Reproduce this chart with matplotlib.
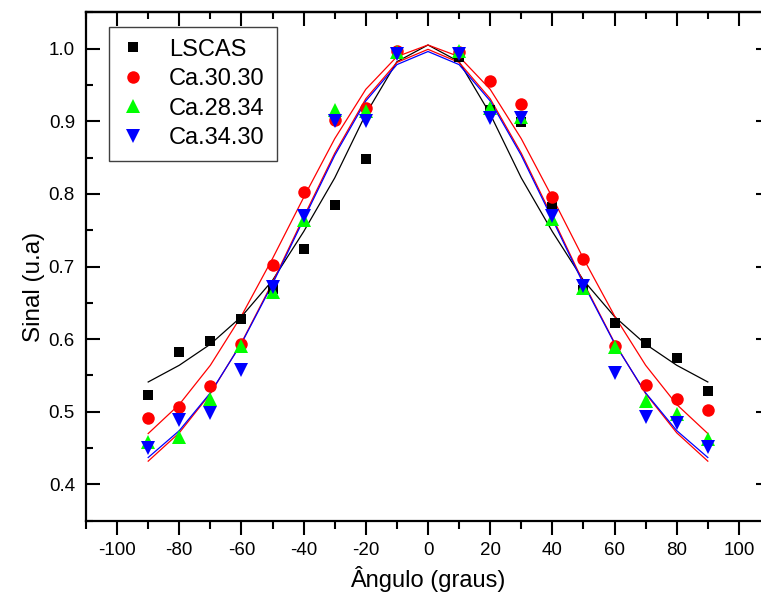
import matplotlib
matplotlib.use("Agg")
import matplotlib.pyplot as plt

plt.rcParams['font.family'] = ['Liberation Sans', 'DejaVu Sans']
plt.rcParams['axes.unicode_minus'] = False

# measured points
angles = [-90, -80, -70, -60, -50, -40, -30, -20, -10, 10, 20, 30, 40, 50, 60, 70, 80, 90]
lscas = [0.523, 0.582, 0.597, 0.628, 0.669, 0.724, 0.785, 0.848, 0.992,
         0.989, 0.915, 0.899, 0.782, 0.667, 0.622, 0.594, 0.574, 0.528]
ca_30_30 = [0.492, 0.506, 0.535, 0.593, 0.702, 0.803, 0.902, 0.918, 0.997,
            0.995, 0.955, 0.924, 0.796, 0.710, 0.591, 0.537, 0.517, 0.503]
ca_28_34 = [0.458, 0.465, 0.517, 0.591, 0.665, 0.764, 0.916, 0.914, 0.996,
            0.997, 0.918, 0.906, 0.766, 0.671, 0.589, 0.515, 0.497, 0.462]
ca_34_30 = [0.450, 0.488, 0.498, 0.558, 0.672, 0.770, 0.900, 0.901, 0.992,
            0.992, 0.905, 0.905, 0.770, 0.673, 0.553, 0.493, 0.484, 0.451]

# fitted curves
fit_x = [-90, -80, -70, -60, -50, -40, -30, -20, -10, 0, 10, 20, 30, 40, 50, 60, 70, 80, 90]
fit_lscas = [0.541, 0.564, 0.593, 0.631, 0.681, 0.748, 0.822, 0.910, 0.982, 1.005,
             0.982, 0.910, 0.822, 0.748, 0.681, 0.631, 0.593, 0.564, 0.541]
fit_30_30 = [0.470, 0.510, 0.564, 0.632, 0.711, 0.795, 0.876, 0.944, 0.989, 1.005,
             0.989, 0.944, 0.876, 0.795, 0.711, 0.632, 0.564, 0.510, 0.470]
fit_28_34 = [0.432, 0.471, 0.525, 0.595, 0.678, 0.768, 0.856, 0.931, 0.981, 0.999,
             0.981, 0.931, 0.856, 0.768, 0.678, 0.595, 0.525, 0.471, 0.432]
fit_34_30 = [0.437, 0.474, 0.526, 0.594, 0.676, 0.765, 0.853, 0.928, 0.978, 0.996,
             0.978, 0.928, 0.853, 0.765, 0.676, 0.594, 0.526, 0.474, 0.437]

W, H = 761, 597
fig = plt.figure(figsize=(W / 100, H / 100), dpi=100)
ax = fig.add_axes([86 / W, 1 - 520.7 / H, 684 / W, 508.4 / H])

ax.plot(fit_x, fit_lscas, '-', color='black', lw=0.9, zorder=2)
ax.plot(fit_x, fit_30_30, '-', color='red', lw=0.9, zorder=2)
ax.plot(fit_x, fit_28_34, '-', color='red', lw=0.9, zorder=2)
ax.plot(fit_x, fit_34_30, '-', color='blue', lw=0.9, zorder=2)

ax.plot(angles, lscas, 's', color='black', ms=7.5, mew=0, label='LSCAS', zorder=3)
ax.plot(angles, ca_30_30, 'o', color='red', ms=9, mew=0, label='Ca.30.30', zorder=3)
ax.plot(angles, ca_28_34, '^', color='#00FF00', ms=10, mew=0, label='Ca.28.34', zorder=3)
ax.plot(angles, ca_34_30, 'v', color='blue', ms=10, mew=0, label='Ca.34.30', zorder=3)

ax.set_xlim(-110, 110)
ax.set_ylim(0.35, 1.05)
ax.set_xticks(range(-100, 101, 20))
ax.set_xticks(range(-110, 111, 10), minor=True)
ax.set_yticks([0.4, 0.5, 0.6, 0.7, 0.8, 0.9, 1.0])
ax.set_yticks([0.35 + 0.05 * i for i in range(15)], minor=True)
ax.yaxis.set_major_formatter(matplotlib.ticker.FormatStrFormatter('%.1f'))

for s in ax.spines.values():
    s.set_linewidth(1.6)

ax.tick_params(axis='x', which='both', direction='out', top=False, labelsize=13.5, width=1.5, pad=5)
ax.tick_params(axis='x', which='major', length=10)
ax.tick_params(axis='x', which='minor', length=6)
ax.tick_params(axis='y', which='both', direction='in', right=True, labelsize=13.5, width=1.5, pad=8)
ax.tick_params(axis='y', which='major', length=10)
ax.tick_params(axis='y', which='minor', length=5)

top = ax.secondary_xaxis('top')
top.set_xticks(range(-100, 101, 20))
top.set_xticks(range(-110, 111, 10), minor=True)
top.tick_params(axis='x', which='both', direction='in', labeltop=False, width=1.5)
top.tick_params(axis='x', which='major', length=10)
top.tick_params(axis='x', which='minor', length=5)
top.spines['top'].set_linewidth(1.6)

ax.set_xlabel('Ângulo (graus)', fontsize=17)
ax.set_ylabel('Sinal (u.a)', fontsize=17.5)
ax.xaxis.set_label_coords(0.5, -0.09)
ax.yaxis.set_label_coords(-0.060, 0.46)

leg = ax.legend(loc='upper left', bbox_to_anchor=(109 / W, 1 - 26.7 / H),
                bbox_transform=fig.transFigure, borderaxespad=0, fontsize=17,
                numpoints=1, handlelength=1.0, handletextpad=1.05, labelspacing=0.32,
                borderpad=0.5, fancybox=False, framealpha=1, edgecolor='#404040')
leg.get_frame().set_linewidth(1.0)

fig.savefig('out.png', dpi=100)
